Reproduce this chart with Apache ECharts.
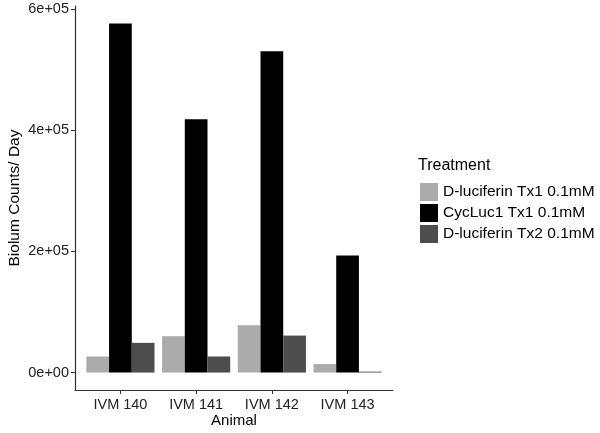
<!DOCTYPE html>
<html>
<head>
<meta charset="utf-8">
<script src="https://cdn.jsdelivr.net/npm/echarts@6/dist/echarts.min.js"></script>
<style>
  html, body { margin: 0; padding: 0; background: #fff; }
  #chart { width: 600px; height: 433px; }
</style>
</head>
<body>
<div id="chart"></div>
<script>
// data
var animals = ["IVM 140", "IVM 141", "IVM 142", "IVM 143"];
var treatments = ["D-luciferin Tx1 0.1mM", "CycLuc1 Tx1 0.1mM", "D-luciferin Tx2 0.1mM"];
var dluc1 = [26500, 60000, 78000, 14000];
var cycluc1 = [576000, 418000, 530000, 193000];
var dluc2 = [49000, 26500, 61000, 1500];
var yTicks = [0, 200000, 400000, 600000];

var colors = ["#ababab", "#000000", "#4d4d4d"];
var font = "Liberation Sans, Arial, sans-serif";

// ggplot style expansion: discrete 0.6, continuous 5%
var yMax = Math.max.apply(null, cycluc1);
var yMin = -0.05 * yMax;
var yTop = 1.05 * yMax;

function toPairs(arr) {
  return arr.map(function (v, i) { return [i + 1, v]; });
}

var chart = echarts.init(document.getElementById("chart"));
chart.setOption({
  animation: false,
  title: {
    text: "Treatment",
    left: 413,
    top: 153,
    textStyle: { fontFamily: font, fontSize: 16, fontWeight: "normal", color: "#000" }
  },
  legend: {
    data: treatments,
    orient: "vertical",
    left: 415,
    top: 178,
    itemWidth: 18,
    itemHeight: 18,
    itemGap: 3,
    icon: "rect",
    textStyle: { fontFamily: font, fontSize: 15.5, color: "#000" }
  },
  grid: { left: 75, right: 207, top: 6, bottom: 43, outerBoundsMode: "none" },
  xAxis: {
    type: "value",
    min: 0.4,
    max: 4.6,
    name: "Animal",
    nameLocation: "middle",
    nameGap: 23,
    nameMoveOverlap: false,
    nameTextStyle: { fontFamily: font, fontSize: 15, color: "#000" },
    splitLine: { show: false },
    axisLine: { onZero: false, lineStyle: { color: "#333", width: 1.2 } },
    axisTick: { length: 4, customValues: [1, 2, 3, 4], lineStyle: { color: "#333" } },
    axisLabel: {
      customValues: [1, 2, 3, 4],
      formatter: function (v) { return animals[Math.round(v) - 1]; },
      fontFamily: font, fontSize: 14.5, color: "#222", margin: 7
    }
  },
  yAxis: {
    type: "value",
    min: yMin,
    max: yTop,
    name: "Biolum Counts/ Day",
    nameLocation: "middle",
    nameGap: 52,
    nameMoveOverlap: false,
    nameTextStyle: { fontFamily: font, fontSize: 15.5, color: "#000" },
    splitLine: { show: false },
    axisLine: { show: true, onZero: false, lineStyle: { color: "#333", width: 1.2 } },
    axisTick: { show: true, length: 4, customValues: yTicks, lineStyle: { color: "#333" } },
    axisLabel: {
      customValues: yTicks,
      formatter: function (v) {
        return Number(v).toExponential(0).replace("e+", "e+0");
      },
      fontFamily: font, fontSize: 14.5, color: "#222", margin: 6
    }
  },
  series: [
    { name: treatments[0], type: "bar", data: toPairs(dluc1), barWidth: "30%", barGap: "0%", itemStyle: { color: colors[0] } },
    { name: treatments[1], type: "bar", data: toPairs(cycluc1), barWidth: "30%", barGap: "0%", itemStyle: { color: colors[1] } },
    { name: treatments[2], type: "bar", data: toPairs(dluc2), barWidth: "30%", barGap: "0%", itemStyle: { color: colors[2] } }
  ]
});
</script>
</body>
</html>
